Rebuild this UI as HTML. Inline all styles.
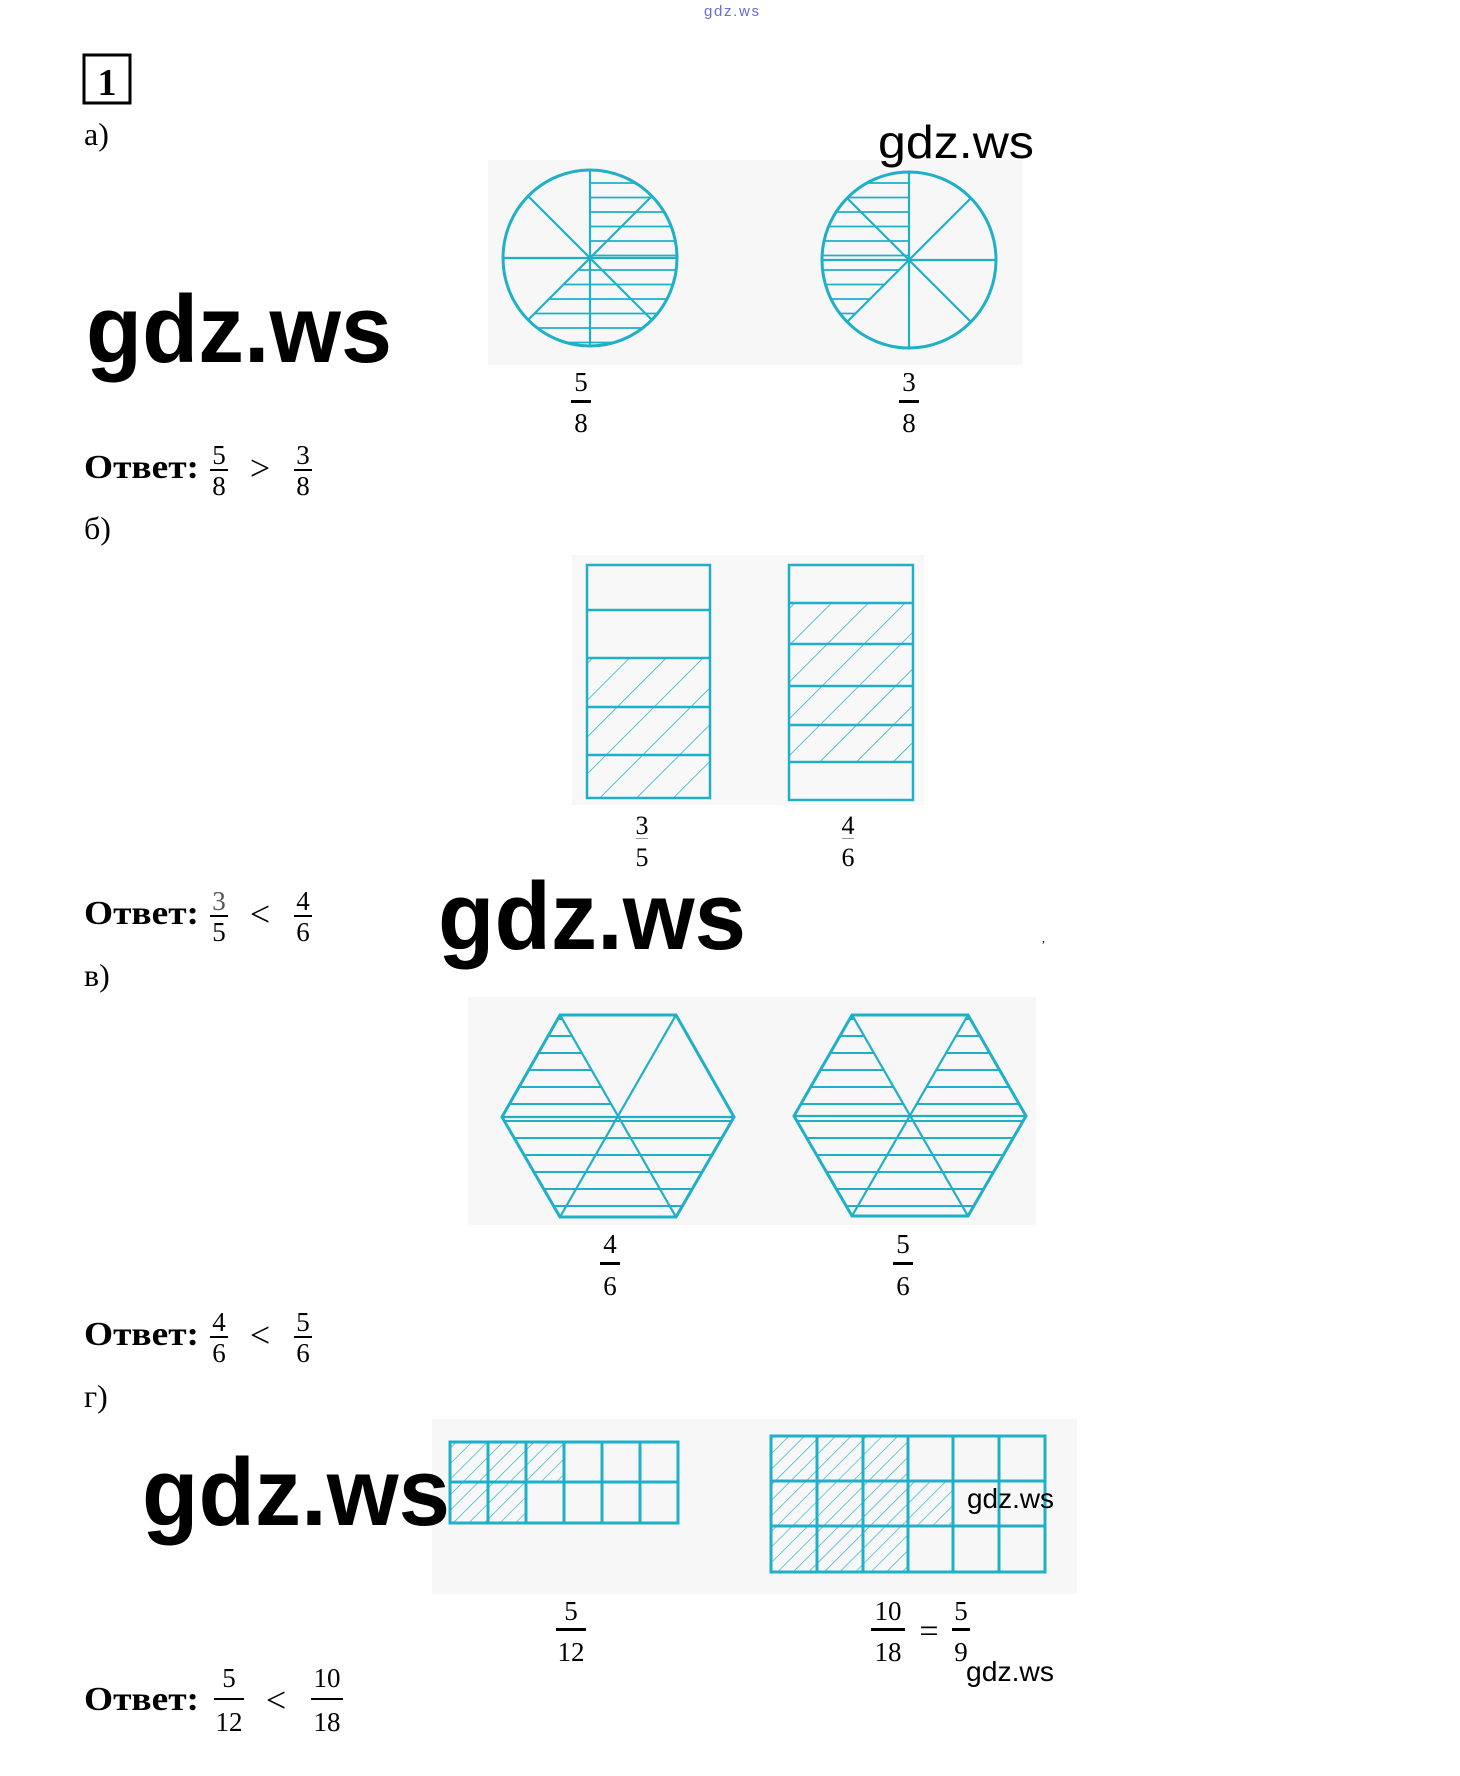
<!DOCTYPE html>
<html><head><meta charset="utf-8"><style>
html,body{margin:0;padding:0;background:#fff;}
svg{display:block;}
.s{font-family:"Liberation Serif",serif;fill:#000;}
.g{font-family:"Liberation Sans",sans-serif;fill:#000;}
</style></head><body>
<svg width="1460" height="1776" viewBox="0 0 1460 1776" xmlns="http://www.w3.org/2000/svg">
<defs>
<pattern id="hc" width="20" height="14.5" patternUnits="userSpaceOnUse" y="2"><line x1="0" y1="7" x2="20" y2="7" stroke="#1fb0c8" stroke-width="1.8"/></pattern>
<pattern id="hh" width="20" height="17" patternUnits="userSpaceOnUse" y="1"><line x1="0" y1="8" x2="20" y2="8" stroke="#1fb0c8" stroke-width="2"/></pattern>
<pattern id="dr" width="26" height="26" patternUnits="userSpaceOnUse" patternTransform="rotate(45)"><line x1="0" y1="0" x2="0" y2="26" stroke="#1fb0c8" stroke-width="1.5"/></pattern>
<pattern id="dg" width="11" height="11" patternUnits="userSpaceOnUse" patternTransform="rotate(45)"><line x1="0" y1="0" x2="0" y2="11" stroke="#1fb0c8" stroke-width="1.3"/></pattern>
</defs>
<text x="704" y="16" font-family="Liberation Sans,sans-serif" font-size="15" fill="#6a6ae0" textLength="55">gdz.ws</text>

<rect x="84" y="55" width="46" height="48" fill="none" stroke="#000" stroke-width="3"/>
<text x="107" y="95" class="s" font-size="38" font-weight="bold" text-anchor="middle">1</text>
<text x="84" y="145" class="s" font-size="32">а)</text>
<text x="86" y="362" class="g" font-size="96" font-weight="bold" textLength="306" lengthAdjust="spacingAndGlyphs">gdz.ws</text>
<rect x="488" y="160" width="534" height="205" fill="#f7f7f7"/>
<text x="878" y="158" class="g" font-size="46" textLength="156" lengthAdjust="spacingAndGlyphs">gdz.ws</text>
<!-- circle 1 -->
<g stroke="#1fb0c8" stroke-width="3" fill="none">
<path d="M590,258 L590,171 A87,87 0 1,1 528.5,319.5 Z" fill="url(#hc)" stroke="none"/>
<ellipse cx="590" cy="258" rx="87" ry="88"/>
<line x1="590" y1="170" x2="590" y2="346" stroke-width="2.2"/>
<line x1="503" y1="258" x2="677" y2="258" stroke-width="2.2"/>
<line x1="528.5" y1="196.5" x2="651.5" y2="319.5" stroke-width="2.2"/>
<line x1="651.5" y1="196.5" x2="528.5" y2="319.5" stroke-width="2.2"/>
</g>
<!-- circle 2 -->
<g stroke="#1fb0c8" stroke-width="3" fill="none">
<path d="M909,260 L909,173 A87,87 0 0,0 847.5,321.5 Z" fill="url(#hc)" stroke="none"/>
<ellipse cx="909" cy="260" rx="87" ry="88"/>
<line x1="909" y1="172" x2="909" y2="348" stroke-width="2.2"/>
<line x1="822" y1="260" x2="996" y2="260" stroke-width="2.2"/>
<line x1="847.5" y1="198.5" x2="970.5" y2="321.5" stroke-width="2.2"/>
<line x1="970.5" y1="198.5" x2="847.5" y2="321.5" stroke-width="2.2"/>
</g>
<g class="s" font-size="27" text-anchor="middle">
<text x="581" y="391">5</text><rect x="571" y="400" width="20" height="3"/><text x="581" y="432">8</text>
<text x="909" y="391">3</text><rect x="899" y="400" width="20" height="3"/><text x="909" y="432">8</text>
</g>
<!-- answer a -->
<text x="84" y="478" class="s" font-size="34" font-weight="bold" textLength="115" lengthAdjust="spacingAndGlyphs">Ответ:</text>
<g class="s" font-size="27" text-anchor="middle">
<text x="219" y="464">5</text><rect x="210" y="469" width="18" height="2"/><text x="219" y="495">8</text>
<text x="260" y="480" font-size="36">&gt;</text>
<text x="303" y="464">3</text><rect x="294" y="469" width="18" height="2"/><text x="303" y="495">8</text>
</g>
<text x="84" y="539" class="s" font-size="32">б)</text>

<!-- rectangles -->
<rect x="572" y="555" width="352" height="250" fill="#f8f8f8"/>
<rect x="587" y="658" width="123" height="140" fill="url(#dr)"/>
<rect x="789" y="603" width="124" height="159" fill="url(#dr)"/>
<g stroke="#1fb0c8" stroke-width="2.5" fill="none">
<rect x="587" y="565" width="123" height="233"/>
<line x1="587" y1="610" x2="710" y2="610"/><line x1="587" y1="658" x2="710" y2="658"/>
<line x1="587" y1="707" x2="710" y2="707"/><line x1="587" y1="755" x2="710" y2="755"/>
<rect x="789" y="565" width="124" height="235"/>
<line x1="789" y1="603" x2="913" y2="603"/><line x1="789" y1="644" x2="913" y2="644"/>
<line x1="789" y1="686" x2="913" y2="686"/><line x1="789" y1="725" x2="913" y2="725"/>
<line x1="789" y1="762" x2="913" y2="762"/>
</g>
<g class="s" font-size="26" text-anchor="middle">
<text x="642" y="834">3</text><rect x="636" y="838" width="12" height="1" fill="#999"/><text x="642" y="866">5</text>
<text x="848" y="834">4</text><rect x="842" y="838" width="12" height="1" fill="#999"/><text x="848" y="866">6</text>
</g>
<text x="84" y="924" class="s" font-size="34" font-weight="bold" textLength="115" lengthAdjust="spacingAndGlyphs">Ответ:</text>
<g class="s" font-size="27" text-anchor="middle">
<text x="219" y="910" fill="#555">3</text><rect x="210" y="915" width="18" height="2"/><text x="219" y="941">5</text>
<text x="260" y="926" font-size="36">&lt;</text>
<text x="303" y="910">4</text><rect x="294" y="915" width="18" height="2"/><text x="303" y="941">6</text>
</g>
<text x="438" y="949" class="g" font-size="96" font-weight="bold" textLength="308" lengthAdjust="spacingAndGlyphs">gdz.ws</text>
<text x="1042" y="942" class="s" font-size="12">,</text>
<text x="84" y="986" class="s" font-size="32">в)</text>

<!-- hexagons -->
<rect x="468" y="997" width="568" height="228" fill="#f7f7f7"/>
<g transform="translate(0,-10)">
<g fill="url(#hh)" stroke="none">
<polygon points="618,1127 560,1025 502,1127"/>
<polygon points="618,1127 502,1127 560,1227"/>
<polygon points="618,1127 560,1227 676,1227"/>
<polygon points="618,1127 676,1227 734,1127"/>
<polygon points="910,1126 852,1025 794,1126 852,1226 968,1226 1026,1126 968,1025"/>
</g>
<g stroke="#1fb0c8" stroke-width="3" fill="none">
<polygon points="502,1127 560,1025 676,1025 734,1127 676,1227 560,1227"/>
<line x1="502" y1="1127" x2="734" y2="1127" stroke-width="2.2"/>
<line x1="560" y1="1025" x2="676" y2="1227" stroke-width="2.2"/>
<line x1="676" y1="1025" x2="560" y2="1227" stroke-width="2.2"/>
<polygon points="794,1126 852,1025 968,1025 1026,1126 968,1226 852,1226"/>
<line x1="794" y1="1126" x2="1026" y2="1126" stroke-width="2.2"/>
<line x1="852" y1="1025" x2="968" y2="1226" stroke-width="2.2"/>
<line x1="968" y1="1025" x2="852" y2="1226" stroke-width="2.2"/>
</g>
</g>
<g class="s" font-size="27" text-anchor="middle">
<text x="610" y="1253">4</text><rect x="600" y="1262" width="20" height="3"/><text x="610" y="1295">6</text>
<text x="903" y="1253">5</text><rect x="893" y="1262" width="20" height="3"/><text x="903" y="1295">6</text>
</g>
<text x="84" y="1345" class="s" font-size="34" font-weight="bold" textLength="115" lengthAdjust="spacingAndGlyphs">Ответ:</text>
<g class="s" font-size="27" text-anchor="middle">
<text x="219" y="1331">4</text><rect x="210" y="1336" width="18" height="2"/><text x="219" y="1362">6</text>
<text x="260" y="1347" font-size="36">&lt;</text>
<text x="303" y="1331">5</text><rect x="294" y="1336" width="18" height="2"/><text x="303" y="1362">6</text>
</g>
<text x="84" y="1407" class="s" font-size="32">г)</text>

<!-- grids -->
<rect x="432" y="1419" width="645" height="175" fill="#f7f7f7"/>
<g fill="url(#dg)">
<rect x="450" y="1442" width="114" height="40"/>
<rect x="450" y="1482" width="76" height="41"/>
<rect x="771" y="1436" width="137" height="136"/>
<rect x="908" y="1481" width="45" height="45"/>
</g>
<g stroke="#1fb0c8" stroke-width="3" fill="none">
<rect x="450" y="1442" width="228" height="81"/>
<line x1="450" y1="1482" x2="678" y2="1482"/>
<line x1="488" y1="1442" x2="488" y2="1523"/><line x1="526" y1="1442" x2="526" y2="1523"/>
<line x1="564" y1="1442" x2="564" y2="1523"/><line x1="602" y1="1442" x2="602" y2="1523"/>
<line x1="640" y1="1442" x2="640" y2="1523"/>
<rect x="771" y="1436" width="274" height="136"/>
<line x1="771" y1="1481" x2="1045" y2="1481"/><line x1="771" y1="1526" x2="1045" y2="1526"/>
<line x1="817" y1="1436" x2="817" y2="1572"/><line x1="863" y1="1436" x2="863" y2="1572"/>
<line x1="908" y1="1436" x2="908" y2="1572"/><line x1="953" y1="1436" x2="953" y2="1572"/>
<line x1="999" y1="1436" x2="999" y2="1572"/>
</g>
<text x="142" y="1525" class="g" font-size="96" font-weight="bold" textLength="308" lengthAdjust="spacingAndGlyphs">gdz.ws</text>
<text x="967" y="1508" class="g" font-size="28" textLength="87" lengthAdjust="spacingAndGlyphs">gdz.ws</text>
<g class="s" font-size="27" text-anchor="middle">
<text x="571" y="1620">5</text><rect x="556" y="1628" width="30" height="3"/><text x="571" y="1661">12</text>
<text x="888" y="1620">10</text><rect x="871" y="1628" width="34" height="3"/><text x="888" y="1661">18</text>
<text x="929" y="1642" font-size="34">=</text>
<text x="961" y="1620">5</text><rect x="952" y="1628" width="18" height="3"/><text x="961" y="1661">9</text>
</g>
<text x="966" y="1681" class="g" font-size="28" textLength="88" lengthAdjust="spacingAndGlyphs">gdz.ws</text>
<text x="84" y="1710" class="s" font-size="34" font-weight="bold" textLength="115" lengthAdjust="spacingAndGlyphs">Ответ:</text>
<g class="s" font-size="27" text-anchor="middle">
<text x="229" y="1687">5</text><rect x="214" y="1698" width="30" height="2"/><text x="229" y="1731">12</text>
<text x="276" y="1712" font-size="36">&lt;</text>
<text x="327" y="1687">10</text><rect x="311" y="1698" width="32" height="2"/><text x="327" y="1731">18</text>
</g>
</svg>
</body></html>
